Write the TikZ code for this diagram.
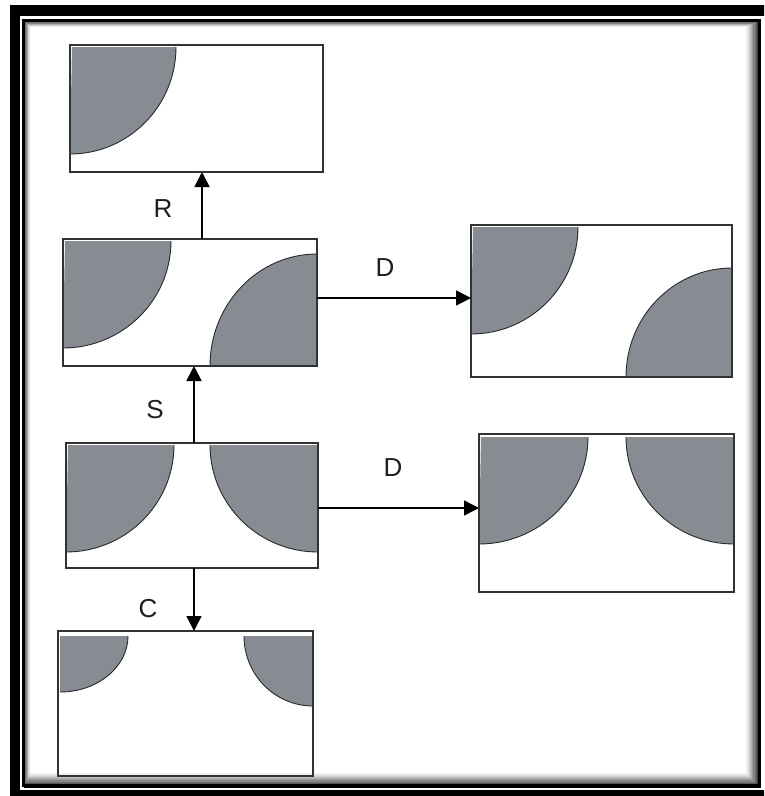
\documentclass[tikz,border=0pt]{standalone}
\usepackage{fontspec}
\setmainfont{Liberation Sans}
\usetikzlibrary{arrows.meta,calc}
\definecolor{blobc}{RGB}{134,140,146}
\definecolor{boxc}{RGB}{50,50,50}
\definecolor{arcc}{RGB}{40,40,45}
\definecolor{labc}{RGB}{30,30,35}
\tikzset{
  box/.style={draw=boxc, line width=1.4pt, fill=none, inner sep=0pt, outer sep=0pt},
  blob/.style={fill=blobc},
  arcline/.style={draw=arcc, line width=0.9pt},
  arr/.style={-{Triangle[length=15pt,width=15pt]}, line width=1.8pt, draw=black},
  lab/.style={font=\fontsize{26}{26}\selectfont, text=labc, inner sep=0pt}
}
\begin{document}
\begin{tikzpicture}[x=1pt,y=-1pt]
\useasboundingbox (0,0) rectangle (764,796);
\fill[white] (0,0) rectangle (764,796);
% frame
\begin{scope}
\clip (0,0) rectangle (764,796);
\draw[line width=10.5pt] (15,10.5) rectangle (790,795.5);
\end{scope}
% inner shadow
\foreach \i in {0,...,12} {
  \pgfmathsetmacro{\lev}{75*(1-\i/12)^1.6}
  \draw[black!\lev, line width=1.3pt] ({25+0.55*\i},{22+0.55*\i}) rectangle ({757-1.05*\i},{784-1.05*\i});
}
\draw[line width=3pt] (23.5,20.5) rectangle (759,785);
\draw[line width=2pt] (759.5,22) -- (759.5,787) -- (24,787);

% boxes
\node[box, minimum width=253pt, minimum height=127pt] (A) at (196.5,108.5) {};
\node[box, minimum width=254pt, minimum height=127pt] (B) at (190,302.5) {};
\node[box, minimum width=261pt, minimum height=152pt] (Cb) at (601.5,301) {};
\node[box, minimum width=252pt, minimum height=125pt] (Db) at (192,505.5) {};
\node[box, minimum width=255pt, minimum height=158pt] (E) at (606.5,513) {};
\node[box, minimum width=255pt, minimum height=145pt] (F) at (185.5,703.5) {};

% blobs A
\fill[blob] ($(A.north west)+(2,2)$) -- ++(104,0) arc[start angle=0,end angle=90,x radius=106,y radius=107] -- cycle;
\draw[arcline] ($(A.north west)+(106,2)$) arc[start angle=0,end angle=90,x radius=106,y radius=107];
% blobs B
\fill[blob] ($(B.north west)+(2,2)$) -- ++(106,0) arc[start angle=0,end angle=90,x radius=108,y radius=107] -- cycle;
\draw[arcline] ($(B.north west)+(108,2)$) arc[start angle=0,end angle=90,x radius=108,y radius=107];
\fill[blob] ($(B.south east)+(1,0)$) -- ++(-108,0) arc[start angle=180,end angle=270,x radius=107,y radius=112] -- cycle;
\draw[arcline] ($(B.south east)+(-107,0)$) arc[start angle=180,end angle=270,x radius=107,y radius=112];
% blobs C
\fill[blob] ($(Cb.north west)+(2,2)$) -- ++(105,0) arc[start angle=0,end angle=90,x radius=107,y radius=107] -- cycle;
\draw[arcline] ($(Cb.north west)+(107,2)$) arc[start angle=0,end angle=90,x radius=107,y radius=107];
\fill[blob] ($(Cb.south east)+(0,0)$) -- ++(-106,0) arc[start angle=180,end angle=270,x radius=106,y radius=109] -- cycle;
\draw[arcline] ($(Cb.south east)+(-106,0)$) arc[start angle=180,end angle=270,x radius=106,y radius=109];
% blobs D
\fill[blob] ($(Db.north west)+(2,2)$) -- ++(106,0) arc[start angle=0,end angle=90,x radius=108,y radius=107] -- cycle;
\draw[arcline] ($(Db.north west)+(108,2)$) arc[start angle=0,end angle=90,x radius=108,y radius=107];
\fill[blob] ($(Db.north east)+(-1,2)$) -- ++(-107,0) arc[start angle=180,end angle=90,x radius=108,y radius=107] -- cycle;
\draw[arcline] ($(Db.north east)+(-108,2)$) arc[start angle=180,end angle=90,x radius=108,y radius=107];
% blobs E
\fill[blob] ($(E.north west)+(2,3)$) -- ++(107,0) arc[start angle=0,end angle=90,x radius=109,y radius=107] -- cycle;
\draw[arcline] ($(E.north west)+(109,3)$) arc[start angle=0,end angle=90,x radius=109,y radius=107];
\fill[blob] ($(E.north east)+(-1,3)$) -- ++(-107,0) arc[start angle=180,end angle=90,x radius=108,y radius=107] -- cycle;
\draw[arcline] ($(E.north east)+(-108,3)$) arc[start angle=180,end angle=90,x radius=108,y radius=107];
% blobs F
\fill[blob] ($(F.north west)+(2,5)$) -- ++(68,0) arc[start angle=0,end angle=90,x radius=68,y radius=56] -- cycle;
\draw[arcline] ($(F.north west)+(70,5)$) arc[start angle=0,end angle=90,x radius=68,y radius=56];
\fill[blob] ($(F.north east)+(-1,5)$) -- ++(-68,0) arc[start angle=180,end angle=90,x radius=69,y radius=70] -- cycle;
\draw[arcline] ($(F.north east)+(-69,5)$) arc[start angle=180,end angle=90,x radius=69,y radius=70];

% redraw borders on top
\foreach \n in {A,B,Cb,Db,E,F} \draw[boxc, line width=1.4pt] (\n.north west) rectangle (\n.south east);

% connectors
\coordinate (rx) at (202,0);
\coordinate (sx) at (194,0);
\coordinate (d1) at (0,298);
\coordinate (d2) at (0,508);
\draw[arr] (rx |- B.north) -- (rx |- A.south);
\draw[arr] (sx |- Db.north) -- (sx |- B.south);
\draw[arr] (B.east |- d1) -- (Cb.west |- d1);
\draw[arr, line width=1.4pt] (Db.east |- d2) -- (E.west |- d2);
\draw[arr, line width=1.4pt] (sx |- Db.south) -- (sx |- F.north);

% labels
\node[lab] (lR) at (163,209) {R};
\node[lab] (lS) at (155,410) {S};
\node[lab] (lD1) at (385,268) {D};
\node[lab] (lD2) at (393,468) {D};
\node[lab] (lC) at (148,609) {C};
\end{tikzpicture}
\end{document}
